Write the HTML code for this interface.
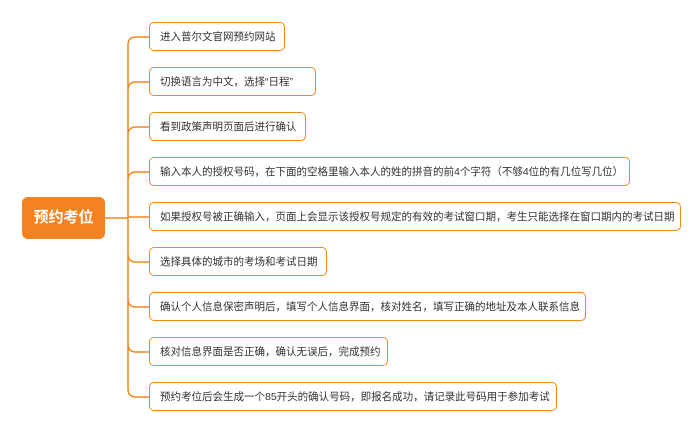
<!DOCTYPE html>
<html><head><meta charset="utf-8"><style>
body{margin:0;width:700px;height:435px;background:#fff;position:relative;overflow:hidden;font-family:"Liberation Sans","Noto Sans CJK SC",sans-serif}
.b{position:absolute;left:149px;height:27px;border:1.5px solid #f0891e;border-radius:5px;box-sizing:content-box;font-size:10.5px;color:#333;line-height:28px;padding-left:10px;white-space:nowrap;overflow:hidden}
.c{position:absolute;left:22px;top:197px;width:83px;height:42px;background:#f58220;border-radius:6px;color:#fff;font-weight:bold;font-size:15px;line-height:42px;text-align:center}
svg{position:absolute;left:0;top:0}
</style></head><body>
<svg width="700" height="435"><g fill="none" stroke="#f0891e" stroke-width="1.5">
<path d="M105 218H128"/>
<path d="M149 37H136Q128 37 128 45V389Q128 397 136 397H149"/>
<path d="M128 90Q128 82 136 82H149M128 135Q128 127 136 127H149M128 180Q128 172 136 172H149M128 217H149M128 254Q128 262 136 262H149M128 299Q128 307 136 307H149M128 344Q128 352 136 352H149"/>
</g></svg>
<div class="c">预约考位</div>
<div class="b" style="top:22px;width:124px">进入普尔文官网预约网站</div>
<div class="b" style="top:67px;width:155px">切换语言为中文，选择“日程”</div>
<div class="b" style="top:112px;width:145px">看到政策声明页面后进行确认</div>
<div class="b" style="top:157px;width:469px">输入本人的授权号码，在下面的空格里输入本人的姓的拼音的前4个字符（不够4位的有几位写几位）</div>
<div class="b" style="top:202px;width:520px">如果授权号被正确输入，页面上会显示该授权号规定的有效的考试窗口期，考生只能选择在窗口期内的考试日期</div>
<div class="b" style="top:247px;width:166px">选择具体的城市的考场和考试日期</div>
<div class="b" style="top:292px;width:425px">确认个人信息保密声明后，填写个人信息界面，核对姓名，填写正确的地址及本人联系信息</div>
<div class="b" style="top:337px;width:227px">核对信息界面是否正确，确认无误后，完成预约</div>
<div class="b" style="top:382px;width:396px">预约考位后会生成一个85开头的确认号码，即报名成功，请记录此号码用于参加考试</div>
</body></html>
